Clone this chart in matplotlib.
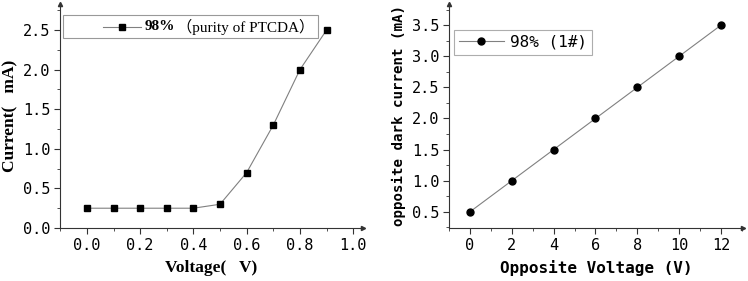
import matplotlib
matplotlib.use("Agg")
import matplotlib.pyplot as plt
from matplotlib.ticker import MultipleLocator, FixedLocator
from matplotlib.offsetbox import AnchoredOffsetbox, HPacker, TextArea, DrawingArea
from matplotlib.lines import Line2D

# Left panel data
volt = [0.0, 0.1, 0.2, 0.3, 0.4, 0.5, 0.6, 0.7, 0.8, 0.9]
current = [0.25, 0.25, 0.25, 0.25, 0.25, 0.30, 0.70, 1.30, 2.00, 2.50]
left_xticks = [0.0, 0.2, 0.4, 0.6, 0.8, 1.0]
left_yticks = [0.0, 0.5, 1.0, 1.5, 2.0, 2.5]
left_legend_bold = '98%'
left_legend_rest = '（purity of PTCDA）'

# Right panel data
opp_volt = [0, 2, 4, 6, 8, 10, 12]
dark_current = [0.5, 1.0, 1.5, 2.0, 2.5, 3.0, 3.5]
right_xticks = [0, 2, 4, 6, 8, 10, 12]
right_yticks = [0.5, 1.0, 1.5, 2.0, 2.5, 3.0, 3.5]

W, H = 748, 281
fig = plt.figure(figsize=(W / 100, H / 100), dpi=100)

def pos(l, r, b, t):
    return [l / W, 1 - b / H, (r - l) / W, (b - t) / H]

ax1 = fig.add_axes(pos(60, 363, 228, 4))
ax2 = fig.add_axes(pos(449, 743, 228, 4))

tickfont = dict(family='DejaVu Sans Mono', size=11)
LINE_C = '#808080'

def style(ax):
    for s in ['top', 'right']:
        ax.spines[s].set_visible(False)
    for s in ['left', 'bottom']:
        ax.spines[s].set_linewidth(0.8)
        ax.spines[s].set_color('#333333')
    ax.tick_params(which='major', direction='out', length=4, width=0.8, color='#333333', pad=3)
    ax.tick_params(which='minor', direction='out', length=2, width=0.6, color='#333333')
    ax.plot(1, 0, '>', color='#333333', ms=3, transform=ax.transAxes, clip_on=False)
    ax.plot(0, 1, '^', color='#333333', ms=3, transform=ax.transAxes, clip_on=False)

# Left
ax1.plot(volt, current, '-', color=LINE_C, lw=0.8, marker='s', ms=4, mfc='black', mec='black')
ax1.set_xlim(-0.101, 1.037)
ax1.set_ylim(0, 2.83)
ax1.xaxis.set_major_locator(FixedLocator(left_xticks))
ax1.yaxis.set_major_locator(FixedLocator(left_yticks))
ax1.xaxis.set_minor_locator(MultipleLocator(0.1))
ax1.yaxis.set_minor_locator(MultipleLocator(0.25))
ax1.set_xticklabels([f'{v:.1f}' for v in left_xticks], **tickfont)
ax1.set_yticklabels([f'{v:.1f}' for v in left_yticks], **tickfont)
style(ax1)
ax1.set_xlabel('Voltage(   V)', family='Liberation Serif', fontweight='bold', fontsize=12.5, labelpad=5)
ax1.set_ylabel('Current(   mA)', family='Liberation Serif', fontweight='bold', fontsize=12.5, labelpad=3)

# Left legend (mixed bold / regular text); DrawingArea units are points
da = DrawingArea(54, 8, 0, 0)
da.add_artist(Line2D([26, 40, 54], [4, 4, 4], color=LINE_C, lw=0.8, marker='s', ms=4,
                     mfc='black', mec='black', markevery=[1]))
t_bold = TextArea(left_legend_bold, textprops=dict(family='Liberation Serif', fontweight='bold', size=11))
t_rest = TextArea(left_legend_rest, textprops=dict(family=['Liberation Serif', 'Noto Sans CJK SC'], size=11))
pack = HPacker(children=[da, t_bold, t_rest], align='center', pad=0, sep=2)
ab = AnchoredOffsetbox(loc='upper left', child=pack, pad=0.25, borderpad=0, frameon=True,
                       bbox_to_anchor=(63 / W, 1 - 15 / H), bbox_transform=fig.transFigure)
ab.patch.set_boxstyle('square', pad=0)
ab.patch.set_edgecolor('#999999')
ab.patch.set_linewidth(0.8)
fig.add_artist(ab)

# Right
ax2.plot(opp_volt, dark_current, '-', color=LINE_C, lw=0.8, marker='o', ms=5,
         mfc='black', mec='black', label='98% (1#)')
ax2.set_xlim(-1.0, 13.05)
ax2.set_ylim(0.24, 3.84)
ax2.xaxis.set_major_locator(FixedLocator(right_xticks))
ax2.yaxis.set_major_locator(FixedLocator(right_yticks))
ax2.xaxis.set_minor_locator(MultipleLocator(1))
ax2.yaxis.set_minor_locator(MultipleLocator(0.25))
ax2.set_xticklabels([str(v) for v in right_xticks], **tickfont)
ax2.set_yticklabels([f'{v:.1f}' for v in right_yticks], **tickfont)
style(ax2)
ax2.set_xlabel('Opposite Voltage (V)', family='DejaVu Sans Mono', fontweight='bold', fontsize=11.5, labelpad=5)
ax2.set_ylabel('opposite dark current (mA)', family='DejaVu Sans Mono', fontweight='bold', fontsize=10.2, labelpad=4)
leg2 = ax2.legend(loc='upper left', bbox_to_anchor=(454 / W, 1 - 30 / H), bbox_transform=fig.transFigure,
                  frameon=True, fancybox=False, edgecolor='#999999', borderpad=0.3,
                  handlelength=2.8, handletextpad=0.4, borderaxespad=0,
                  prop=dict(family='DejaVu Sans Mono', size=11.5))
leg2.get_frame().set_linewidth(0.8)

fig.savefig('out.png', dpi=100)
